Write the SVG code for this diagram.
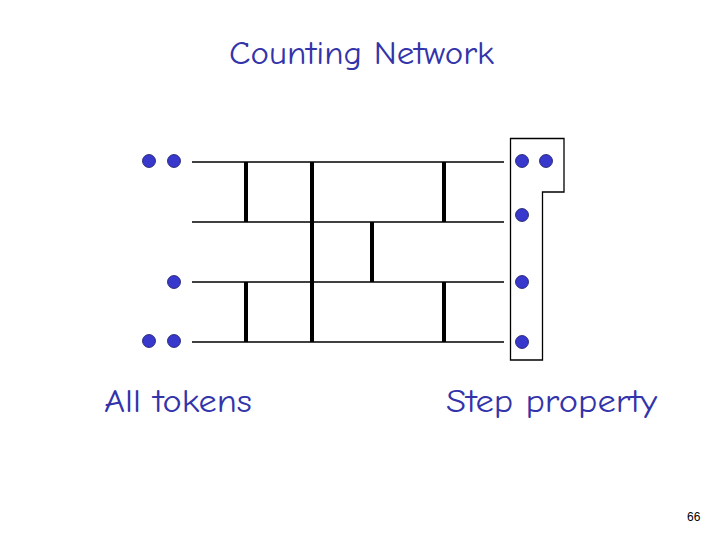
<svg xmlns="http://www.w3.org/2000/svg" width="720" height="540" viewBox="0 0 720 540">
<style>
.t{font-family:"Comic Neue","Comic Sans MS","DejaVu Sans",sans-serif;fill:#3333aa}
.w{stroke:#000;stroke-width:1.3;fill:none}
.b{stroke:#000;stroke-width:4;fill:none}
.d{fill:#3838cc;stroke:#1a1a66;stroke-width:0.8}
</style>
<rect width="720" height="540" fill="#fff"/>
<text class="t" x="229" y="64" font-size="33" textLength="265" lengthAdjust="spacingAndGlyphs">Counting Network</text>
<g id="connectors">
<line class="w" x1="192" y1="162" x2="504" y2="162"/>
<line class="w" x1="192" y1="222" x2="504" y2="222"/>
<line class="w" x1="192" y1="282" x2="504" y2="282"/>
<line class="w" x1="192" y1="342" x2="504" y2="342"/>
<line class="b" x1="246" y1="162" x2="246" y2="222"/>
<line class="b" x1="246" y1="282" x2="246" y2="342"/>
<line class="b" x1="312" y1="162" x2="312" y2="342"/>
<line class="b" x1="372" y1="222" x2="372" y2="282"/>
<line class="b" x1="444" y1="162" x2="444" y2="222"/>
<line class="b" x1="444" y1="282" x2="444" y2="342"/>
</g>
<g id="inputs">
<circle class="d" cx="149" cy="161" r="6.5"/>
<circle class="d" cx="174" cy="161" r="6.5"/>
<circle class="d" cx="174" cy="282" r="6.5"/>
<circle class="d" cx="149" cy="341" r="6.5"/>
<circle class="d" cx="174" cy="341" r="6.5"/>
</g>
<g id="outputs">
<path d="M510.5,360 V138.5 H564 V192 H542.5 V360 Z" fill="none" stroke="#000" stroke-width="1.3"/>
<circle class="d" cx="522" cy="161" r="6.5"/>
<circle class="d" cx="546" cy="161" r="6.5"/>
<circle class="d" cx="522" cy="215" r="6.5"/>
<circle class="d" cx="522" cy="282" r="6.5"/>
<circle class="d" cx="522" cy="342" r="6.5"/>
</g>
<text class="t" x="104" y="412" font-size="32" textLength="148" lengthAdjust="spacingAndGlyphs">All tokens</text>
<text class="t" x="446" y="412" font-size="32" textLength="211" lengthAdjust="spacingAndGlyphs">Step property</text>
<text x="687" y="521" font-size="12" font-family="Liberation Sans,sans-serif" fill="#000">66</text>
</svg>
